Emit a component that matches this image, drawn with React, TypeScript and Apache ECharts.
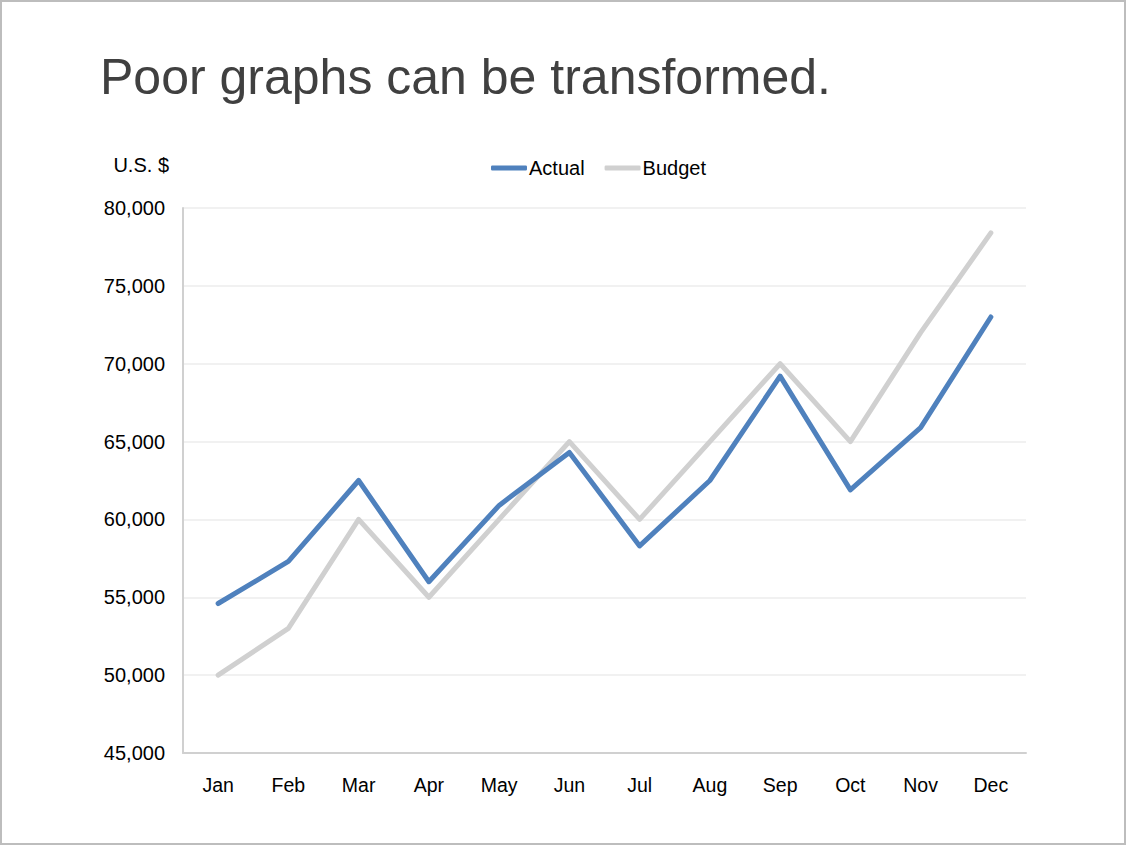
import React, { useEffect, useRef } from "react";
import * as echarts from "echarts";

const months = ["Jan", "Feb", "Mar", "Apr", "May", "Jun", "Jul", "Aug", "Sep", "Oct", "Nov", "Dec"];
const actual = [54600, 57300, 62500, 56000, 60900, 64300, 58300, 62500, 69200, 61900, 65900, 73000];
const budget = [50000, 53000, 60000, 55000, 60000, 65000, 60000, 65000, 70000, 65000, 72000, 78400];
const yMin = 45000;
const yMax = 80000;
const yStep = 5000;

const FONT = "'Liberation Sans', Arial, Helvetica, sans-serif";

export default function App() {
  const ref = useRef<HTMLDivElement>(null);
  useEffect(() => {
    if (!ref.current) return;
    const chart = echarts.init(ref.current, undefined, { renderer: "svg" });
    chart.setOption({
      animation: false,
      backgroundColor: "#ffffff",
      textStyle: { fontFamily: FONT },
      graphic: [
        {
          type: "text",
          left: 100,
          top: 52,
          style: {
            text: "Poor graphs can be transformed.",
            fontSize: 50,
            fontFamily: FONT,
            fill: "#404040",
          },
        },
        {
          type: "text",
          x: 169,
          y: 165,
          style: {
            text: "U.S. $",
            fontSize: 20,
            fontFamily: FONT,
            fill: "#000000",
            align: "right",
            verticalAlign: "middle",
          },
        },
      ],
      legend: {
        left: 486,
        top: 153,
        itemWidth: 36,
        itemHeight: 5,
        itemGap: 20,
        icon: "roundRect",
        textStyle: { fontSize: 20, color: "#000000", fontFamily: FONT, padding: [0, 0, 0, -3] },
        data: ["Actual", "Budget"],
      },
      grid: { left: 183, right: 100, top: 208, bottom: 92, containLabel: false },
      xAxis: {
        type: "category",
        data: months,
        boundaryGap: true,
        axisLine: { show: true, lineStyle: { color: "#d0d0d0", width: 2 } },
        axisTick: { show: false },
        axisLabel: { fontSize: 19.5, color: "#000000", margin: 22, fontFamily: FONT },
        splitLine: { show: false },
      },
      yAxis: {
        type: "value",
        min: yMin,
        max: yMax,
        interval: yStep,
        axisLine: { show: true, lineStyle: { color: "#d0d0d0", width: 2 } },
        axisTick: { show: false },
        axisLabel: {
          fontSize: 20,
          color: "#000000",
          margin: 18,
          fontFamily: FONT,
          formatter: (v: number) => v.toLocaleString("en-US"),
        },
        splitLine: { show: true, lineStyle: { color: "#ececec", width: 1.5 } },
      },
      series: [
        {
          name: "Actual",
          type: "line",
          data: actual,
          symbol: "none",
          z: 3,
          color: "#4f81bd",
          lineStyle: { color: "#4f81bd", width: 5, cap: "round", join: "round" },
        },
        {
          name: "Budget",
          type: "line",
          data: budget,
          symbol: "none",
          z: 2,
          color: "#d0d0d0",
          lineStyle: { color: "#d0d0d0", width: 5, cap: "round", join: "round" },
        },
      ],
    });
    return () => chart.dispose();
  }, []);

  return (
    <div
      style={{
        position: "fixed",
        left: 0,
        top: 0,
        width: 1126,
        height: 845,
        boxSizing: "border-box",
        border: "2px solid #bdbdbd",
        background: "#ffffff",
        overflow: "hidden",
      }}
    >
      <div ref={ref} style={{ position: "absolute", left: -2, top: -2, width: 1126, height: 845 }} />
    </div>
  );
}
